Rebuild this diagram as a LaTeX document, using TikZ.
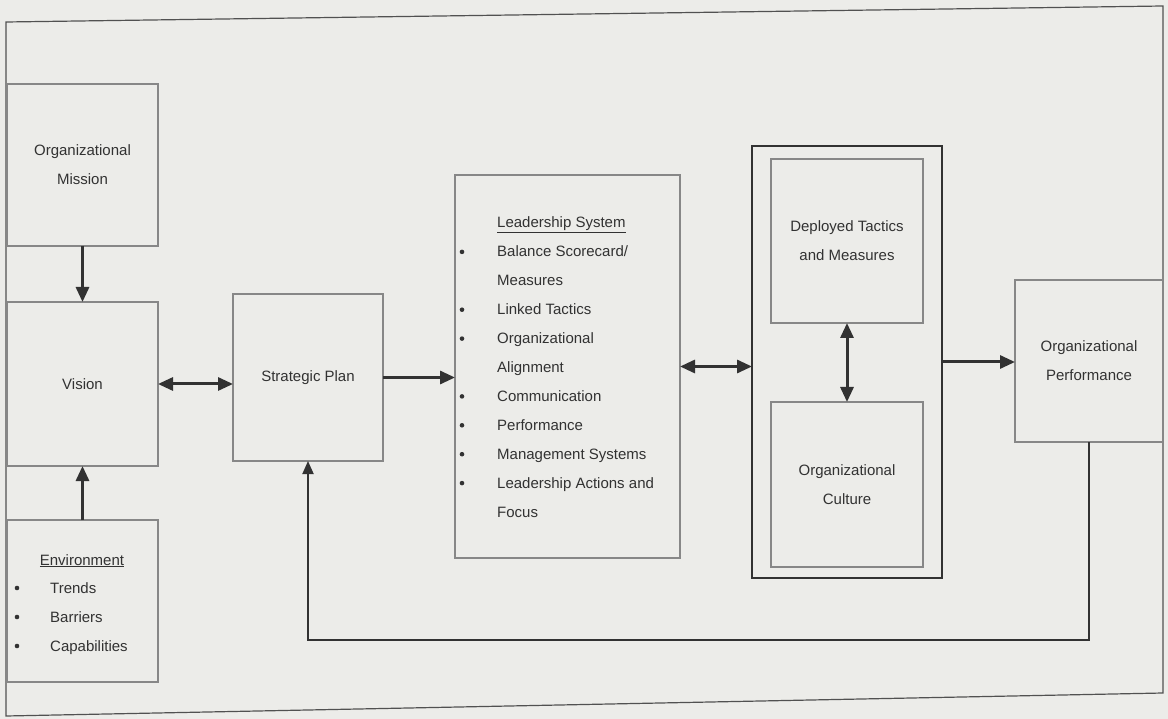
\documentclass[tikz,border=0pt]{standalone}
\usepackage{fontspec}
\setmainfont{Liberation Sans}
\usetikzlibrary{arrows.meta}
\definecolor{paper}{RGB}{236,236,233}
\definecolor{ink}{RGB}{50,50,50}
\definecolor{edge}{RGB}{135,135,135}
\begin{document}
\begin{tikzpicture}[x=1pt,y=-1pt,
        font=\fontsize{15}{28.8}\selectfont,
        text=ink,
        >={Triangle[length=15pt,width=13pt]},
        box/.style={draw=edge,line width=1.4pt,fill=paper,outer sep=0pt,inner sep=0pt,align=center},
        heavybox/.style={draw=ink,line width=1.8pt,outer sep=0pt,inner sep=0pt},
        arr/.style={draw=ink,line width=3pt,->},
        dblarr/.style={draw=ink,line width=3pt,<->},
        feed/.style={draw=ink,line width=1.8pt,-{Triangle[length=13pt,width=11pt]}},
        ]
    \path[use as bounding box,fill=paper] (0,0) rectangle (1168,719);
    % outer frame of the scanned figure
    \draw[ink!85,line width=1.2pt] (6,22) -- (1163,6) -- (1163,693) -- (6,716) -- cycle;

    % left column
    \node[box,minimum width=151pt,minimum height=162pt] (mission) at (82.5,165) {Organizational\\Mission};
    \node[box,minimum width=151pt,minimum height=164pt] (vision) at (82.5,384) {Vision};
    \node[box,minimum width=151pt,minimum height=162pt] (envir) at (82.5,601) {};
    \node[anchor=base] (envtitle) at (82,565) {\underline{Environment}};
    \foreach \item [count=\i] in {Trends,Barriers,Capabilities} {
        \node[anchor=base west,inner sep=0pt] (env\i) at (50,{593+29*(\i-1)}) {\item};
        \fill[ink] (17,{588+29*(\i-1)}) circle (2.3pt);
    }

    \node[box,minimum width=150pt,minimum height=167pt] (strat) at (308,377.5) {Strategic Plan};

    % leadership system
    \node[box,minimum width=225pt,minimum height=383pt] (lead) at (567.5,366.5) {};
    \node[anchor=base west,inner sep=0pt] (leadtitle) at (497,228) {\underline{Leadership System}};
    \foreach \txt/\bul [count=\i] in {{Balance Scorecard/}/1,Measures/0,Linked Tactics/1,
            Organizational/1,Alignment/0,Communication/1,Performance/1,
            Management Systems/1,Leadership Actions and/1,Focus/0} {
        \node[anchor=base west,inner sep=0pt] (lead\i) at (497,{228+28.9*\i}) {\txt};
        \ifnum\bul=1 \fill[ink] (462,{223+28.9*\i}) circle (2.3pt); \fi
    }

    % deployment block
    \node[heavybox,minimum width=190pt,minimum height=432pt] (dbox) at (847,362) {};
    \node[box,minimum width=152pt,minimum height=164pt] (deploy) at (847,241) {Deployed Tactics\\and Measures};
    \node[box,minimum width=152pt,minimum height=165pt] (culture) at (847,484.5) {Organizational\\Culture};

    \node[box,minimum width=148pt,minimum height=162pt] (perf) at (1089,361) {Organizational\\Performance};

    % connectors
    \draw[arr] (mission) -- (vision);
    \draw[arr] (envir) -- (vision);
    \draw[dblarr] (vision.east) -- (vision.east -| strat.west);
    \draw[arr] (strat.east) -- (strat.east -| lead.west);
    \draw[dblarr] (lead.east) -- (lead.east -| dbox.west);
    \draw[dblarr] (deploy) -- (culture);
    \draw[arr] (dbox.east) -- (dbox.east -| perf.west);
    \coordinate (fbcorner) at (308,640);
    \draw[feed] (perf.south) |- (fbcorner) -- (strat.south);
\end{tikzpicture}
\end{document}
